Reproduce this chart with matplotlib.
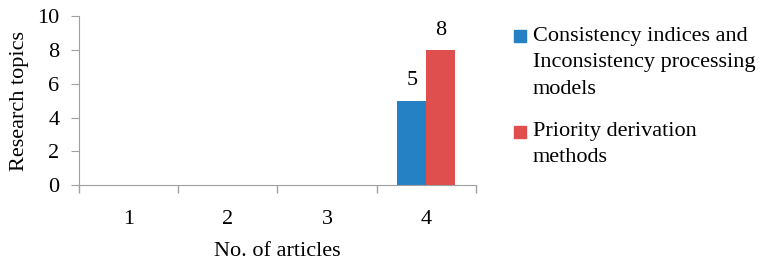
import matplotlib

matplotlib.use("Agg")

import matplotlib.pyplot as plt
from matplotlib.patches import Rectangle

categories = ["1", "2", "3", "4"]
consistency = [0, 0, 0, 5]
priority = [0, 0, 0, 8]
series_names = [
    "Consistency indices and\nInconsistency processing\nmodels",
    "Priority derivation\nmethods",
]
colors = ["#2580c4", "#de4f4e"]

plt.rcParams["font.family"] = ["Liberation Serif", "DejaVu Serif"]
FS = 16

fig = plt.figure(figsize=(7.63, 2.6), dpi=100)
ax = fig.add_axes([0.1035, 0.288, 0.52, 0.65])

x = list(range(len(categories)))
w = 0.29
for vals, off, col in [(consistency, -w / 2, colors[0]), (priority, w / 2, colors[1])]:
    pos = [i + off for i in x]
    ax.bar(pos, vals, width=w, color=col)
    for p, v in zip(pos, vals):
        if v > 0:
            ax.text(p, v + 0.6, str(v), ha="center", va="bottom", fontsize=FS)

ax.set_xlim(-0.5, 3.5)
ax.set_ylim(0, 10)
ax.set_yticks(range(0, 11, 2))
ax.set_xticks(x)
ax.set_xticklabels(categories)
ax.set_xticks([i - 0.5 for i in range(len(categories) + 1)], minor=True)
ax.tick_params(axis="x", which="major", length=0, pad=18, labelsize=FS)
ax.tick_params(axis="x", which="minor", length=6, color="#a0a0a0", width=1)
ax.tick_params(axis="y", length=6, color="#a0a0a0", labelsize=FS, pad=8)
for side in ["top", "right"]:
    ax.spines[side].set_visible(False)
for side in ["left", "bottom"]:
    ax.spines[side].set_color("#a0a0a0")
ax.set_xlabel("No. of articles", fontsize=FS, labelpad=9)
ax.set_ylabel("Research topics", fontsize=FS, labelpad=6)

# legend drawn by hand so the swatch lines up with the first text line
W, H = 763, 260
for name, col, ytop, ytext in zip(series_names, colors, [30, 126], [27, 122]):
    fig.patches.append(Rectangle((514 / W, 1 - (ytop + 12) / H), 12 / W, 12 / H,
                                 transform=fig.transFigure, color=col))
    fig.text(533 / W, 1 - ytext / H, name, fontsize=FS, va="top", ha="left",
             linespacing=1.52)

fig.savefig("out.png", dpi=100)
